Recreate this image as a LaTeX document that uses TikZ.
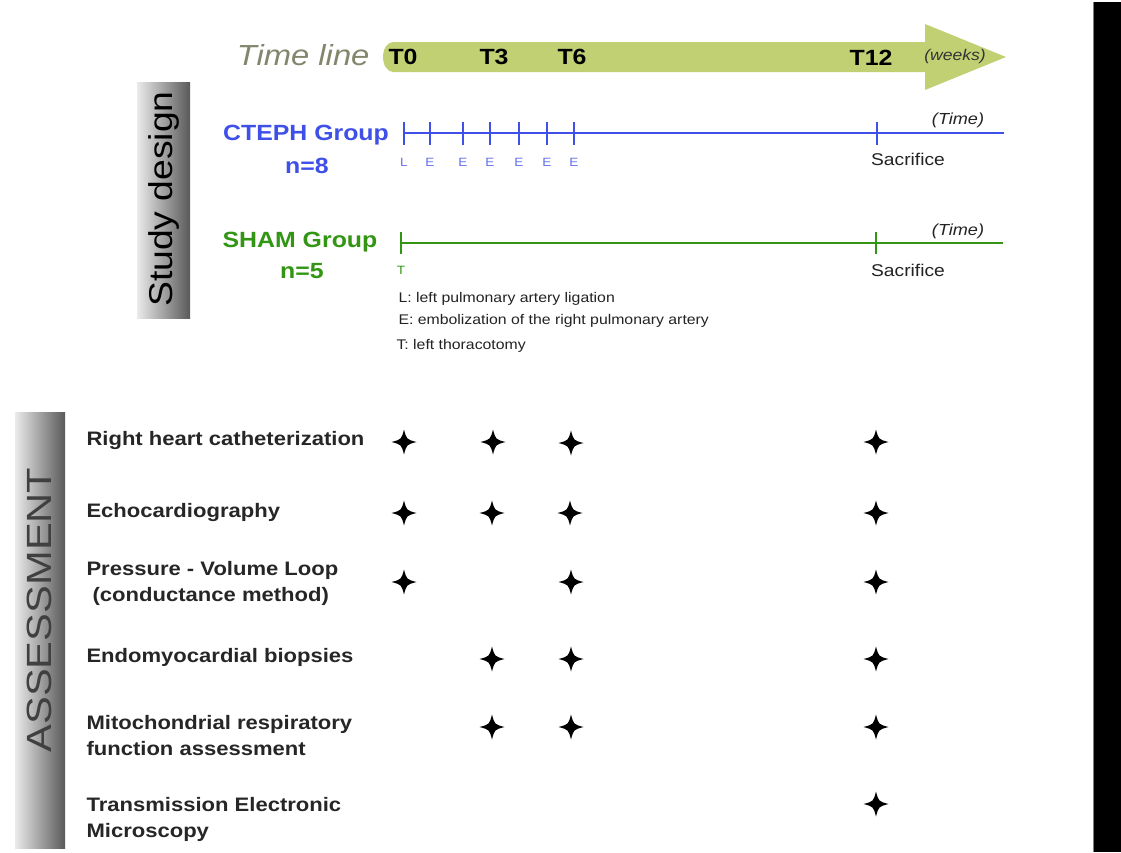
\documentclass[tikz,border=0pt]{standalone}
\usepackage{fontspec}
\setmainfont[FakeStretch=1.13]{Liberation Sans}
\definecolor{arrowgreen}{RGB}{194,208,116}
\definecolor{tlgray}{RGB}{130,134,108}
\definecolor{ctblue}{RGB}{62,80,232}
\definecolor{shgreen}{RGB}{50,150,20}
\definecolor{legtext}{RGB}{35,35,35}
\newcommand\fs[1]{\fontsize{#1}{#1}\selectfont}
\tikzset{
  tlabel/.style={font=\bfseries\fs{22}, text=black},
  grouplbl/.style={font=\bfseries\fs{22}},
  evlbl/.style={font=\fs{12}},
  sacr/.style={font=\fs{17}, text=legtext},
  timelbl/.style={font=\itshape\fs{16}, text=legtext},
  legend/.style={font=\fs{14}, text=legtext, anchor=west},
  item/.style={font=\bfseries\fontsize{19.5}{26}\selectfont, text=black!85, anchor=west, align=left},
  sidebox/.style={left color=white!92!black, right color=black!65, draw=none},
  pics/astar/.style={code={
    \fill[black] (0,-12.5) .. controls (2.6,-2.6) .. (12.5,0) .. controls (2.6,2.6) .. (0,12.5)
       .. controls (-2.6,2.6) .. (-12.5,0) .. controls (-2.6,-2.6) .. cycle;}}
}
\begin{document}
\begin{tikzpicture}[x=1pt,y=-1pt]
\useasboundingbox (0,0) rectangle (1121,852);
\fill[white] (0,0) rectangle (1121,852);
% right black bar
\fill[black] (1094,2) rectangle (1121,852);
\draw[black!50, line width=1pt] (1093,2) -- (1093,852);

% time line arrow
\fill[arrowgreen] (393,42) -- (925,42) -- (925,24) -- (1006,57) -- (925,90) -- (925,72) -- (393,72)
   arc[start angle=90, end angle=270, x radius=10, y radius=15] -- cycle;
\node[font=\itshape\fs{29}, text=tlgray, anchor=east] (tl) at (373,55) {Time line};
\node[tlabel] (t0) at (403,57) {T0};
\node[tlabel] (t3) at (494,57) {T3};
\node[tlabel] (t6) at (572,57) {T6};
\node[tlabel] (t12) at (871,58) {T12};
\node[font=\itshape\fs{15.5}, text=black!80] (wk) at (955,56) {(weeks)};

% study design box
\fill[sidebox] (137,82) rectangle (190,318);
\node[rotate=90, font=\fs{33}, text=black] (sd) at (164,199) {Study design};

% CTEPH group
\node[grouplbl, text=ctblue] (ct) at (306,135) {CTEPH Group};
\node[grouplbl, text=ctblue] (ctn) at (307,166) {n=8};
\coordinate (cts) at (403,133);
\coordinate (cte) at (1004,133);
\draw[ctblue, line width=1.6pt] (cts) -- (cte);
\foreach \x/\l in {404/L,430/E,463/E,490/E,519/E,547/E,574/E}{
  \draw[ctblue, line width=1.6pt] (\x,122) -- (\x,145);
  \node[evlbl, text=ctblue!80] at (\x,162) {\l};
}
\draw[ctblue, line width=1.6pt] (877,122) -- (877,145);
\node[sacr] (ctsac) at (908,159) {Sacrifice};
\node[timelbl] (cttime) at (958,120) {(Time)};

% SHAM group
\node[grouplbl, text=shgreen] (sh) at (300,242) {SHAM Group};
\node[grouplbl, text=shgreen] (shn) at (302,271) {n=5};
\coordinate (shs) at (401,243);
\coordinate (she) at (1003,243);
\draw[shgreen, line width=1.8pt] (shs) -- (she);
\draw[shgreen, line width=1.8pt] (401,232) -- (401,254);
\draw[shgreen, line width=1.8pt] (876,232) -- (876,254);
\node[evlbl, text=shgreen] (tt) at (401,270) {T};
\node[sacr] (shsac) at (908,270) {Sacrifice};
\node[timelbl] (shtime) at (958,231) {(Time)};

% legend
\node[legend] (lg1) at (395,299) {L: left pulmonary artery ligation};
\node[legend] (lg2) at (395,321) {E: embolization of the right pulmonary artery};
\node[legend] (lg3) at (393,346) {T: left thoracotomy};

% assessment box
\fill[sidebox] (15,412) rectangle (65,848);
\node[rotate=90, font=\fs{35}, text=black!75] (as) at (39,610) {\addfontfeature{FakeStretch=1.19}ASSESSMENT};

% items
\node[item] (i1) at (83,440) {Right heart catheterization};
\node[item] (i2) at (83,512) {Echocardiography};
\node[item] (i3) at (83,583) {Pressure - Volume Loop\\\ (conductance method)};
\node[item] (i4) at (83,657) {Endomyocardial biopsies};
\node[item] (i5) at (83,736) {Mitochondrial respiratory\\function assessment};
\node[item] (i6) at (83,819) {Transmission Electronic\\Microscopy};

% stars
\foreach \x/\y in {404/442,493/442,571/443,876/442,
                   404/513,492/513,570/513,876/513,
                   404/582,571/582,876/582,
                   492/659,571/659,876/659,
                   492/727,571/727,876/727,
                   876/804}{
  \pic at (\x,\y) {astar};
}
\end{tikzpicture}
\end{document}
